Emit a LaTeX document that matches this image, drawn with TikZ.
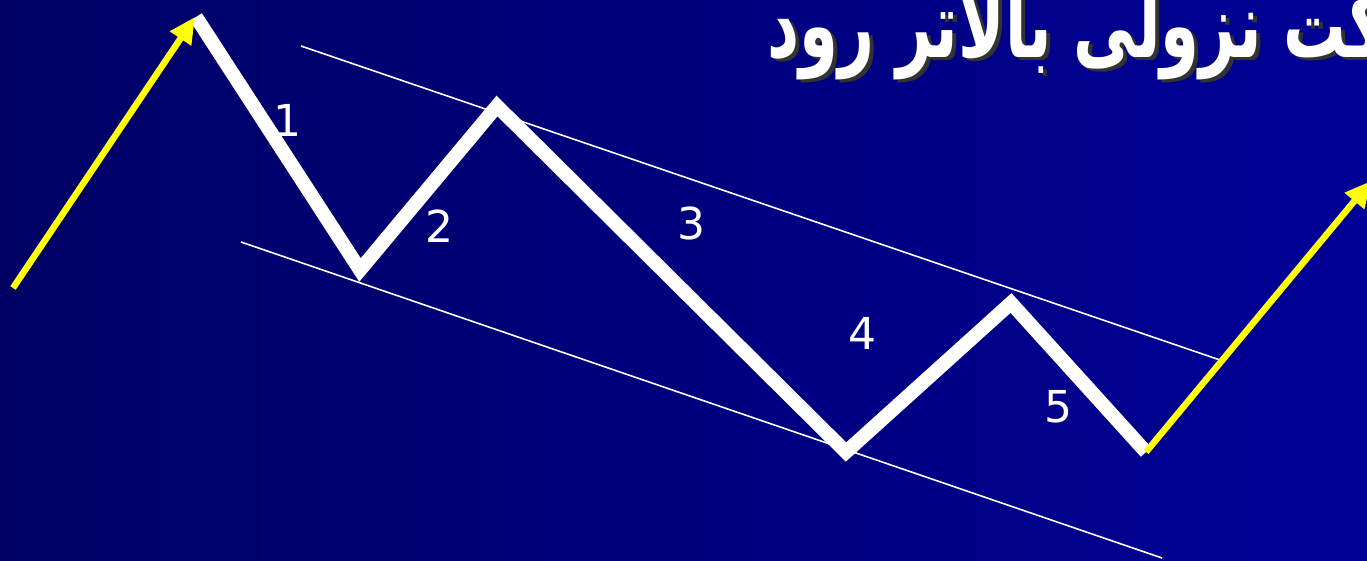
\documentclass[tikz,border=0pt]{standalone}
\usepackage{fontspec}
\usetikzlibrary{arrows.meta}
\newfontfamily\digitfont{DejaVu Sans}
\newfontfamily\arabicfont[Script=Arabic]{DejaVu Sans}
\TeXXeTstate=1
\definecolor{bgleft}{RGB}{0,0,100}
\definecolor{bgright}{RGB}{0,0,150}
\definecolor{arrowyellow}{RGB}{255,255,0}
\newcommand{\titlestring}{\scalebox{0.68}[1]{\arabicfont\bfseries\fontsize{92}{100}\selectfont\beginR حرکت نزولی بالاتر رود\endR}}
\tikzset{
  wave/.style={draw=white,line width=14pt,line join=miter,miter limit=10},
  channel/.style={draw=white,line width=1.6pt},
  trendarrow/.style={draw=arrowyellow,line width=6.5pt,-{Triangle[length=26pt,width=24pt]}},
  wavelabel/.style={text=white,font=\digitfont\fontsize{44}{48}\selectfont,inner sep=0pt},
  titletext/.style={inner sep=0pt,anchor=base west},
}
\begin{document}
\begin{tikzpicture}[x=1pt,y=-1pt]
\useasboundingbox (0,0) rectangle (1367,561);
\clip (0,0) rectangle (1367,561);
\shade[left color=bgleft,right color=bgright] (0,0) rectangle (1367,561);
% channel lines
\coordinate (u1) at (301,46);
\coordinate (u2) at (1220,360);
\coordinate (l1) at (241,242);
\coordinate (l2) at (1162,558);
\draw[channel] (u1) -- (u2);
\draw[channel] (l1) -- (l2);
% wave points
\coordinate (p0) at (196,17);
\coordinate (p1) at (360,270);
\coordinate (p2) at (497,106);
\coordinate (p3) at (846,452);
\coordinate (p4) at (1011,303);
\coordinate (p5) at (1146,452);
\draw[wave] (p0) -- (p1) -- (p2) -- (p3) -- (p4) -- (p5);
% trend arrows
\coordinate (a0) at (13,288);
\coordinate (a1) at (195,17);
\coordinate (b1) at (1371,181);
\draw[trendarrow] (a0) -- (a1);
\draw[trendarrow] (p5) -- (b1);
% labels
\node[wavelabel] (n1) at (287,120) {1};
\node[wavelabel] (n2) at (439,226) {2};
\node[wavelabel] (n3) at (691,223) {3};
\node[wavelabel] (n4) at (862,333) {4};
\node[wavelabel] (n5) at (1058,407) {5};
% title (cut off at right edge)
\node[titletext,text=black!80] (titleshadow) at (771,61) {\titlestring};
\node[titletext,text=white] (title) at (767,58) {\titlestring};
\end{tikzpicture}
\end{document}
